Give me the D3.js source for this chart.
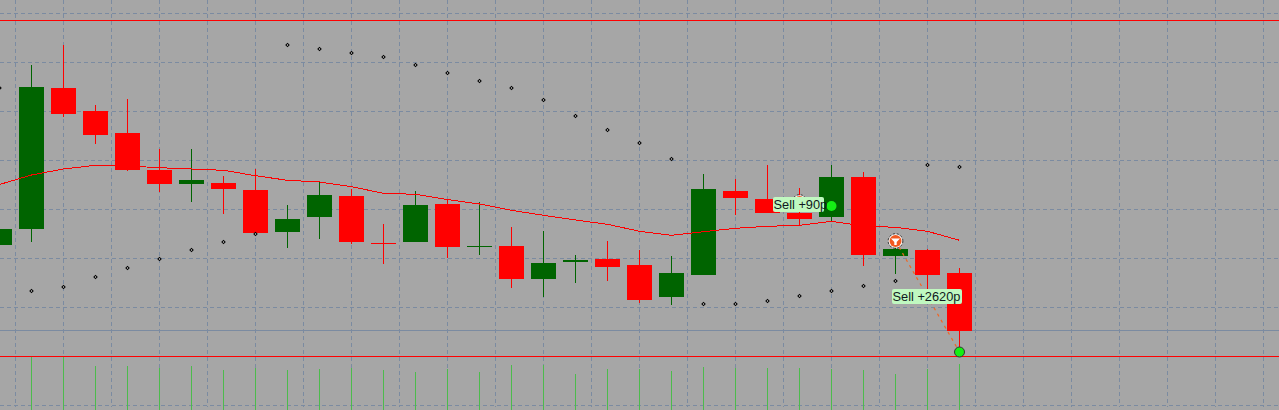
<!DOCTYPE html>
<html>
<head>
<meta charset="utf-8">
<script src="https://cdn.jsdelivr.net/npm/d3@7"></script>
<style>
  html, body { margin: 0; padding: 0; background: #a6a6a6; overflow: hidden; }
  svg { display: block; }
</style>
</head>
<body>
<div id="chart"></div>
<script>
// price data, one entry per bar
const open  = [255,271,412,389,367,330,316,317,310,268,283,304,257,258,296,253,254,221,238,241,235,203,225,309,301,287,283,323,244,250,227];
const close = [271,413,386,365,330,316,320,311,267,281,305,258,256,295,253,254,221,237,240,233,200,227,311,302,287,281,323,245,251,225,169];
const high  = [271,435,455,395,401,351,351,324,331,295,318,311,276,309,300,298,273,269,245,259,250,244,326,321,335,312,335,328,255,251,232];
const low   = [255,258,383,356,329,308,298,286,267,252,261,256,236,258,242,245,212,203,217,219,197,195,225,285,287,275,279,234,226,203,148];
const sar   = [412,209,213,223,232,241,250,258,266,455,451,447,443,435,427,419,412,400,384,370,357,341,196,196,199,204,209,214,219,335,333];
const ma    = [315.5,325,331,334.7,334,332.3,331,329.7,324.3,319.7,318,313.3,306.7,305.7,300.5,296,289.7,284.7,280,275.7,268.7,264.7,268.3,271.7,273.7,274.7,278.7,274,272.7,268.7,259.7];
const volume = [53,53,44,44,42,44,40,42,40,41,42,40,38,41,38,45,45,36,41,41,39,43,42,42,42,41,40,36,41,46];
const volumeBars = [1,2,3,4,5,6,7,8,9,10,11,12,13,14,15,16,17,18,19,20,21,22,23,24,25,26,27,28,29,30];

const priceGrid = [486.5,438,389,340,290.5,242,193,95];
const timeGrid = d3.range(0, 27);
const levelsRed = [479.5,143.5];
const levelGrey = [169.5];

// closed trades: entry bar and price, exit bar and price, label
const tradeEntryBar = [25,28];
const tradeEntryPrice = [298,259];
const tradeExitBar = [26,30];
const tradeExitPrice = [294,148];
const tradeLabels = ["Sell +90p","Sell +2620p"];

const width = 1279, height = 410;
const x = d3.scaleLinear().domain([0, 40]).range([-0.5, 1279.5]);
const y = d3.scaleLinear().domain([90, 500]).range([410, 0]);
const yVol = d3.scaleLinear().domain([0, 60]).range([410, 350]);
const gridX = d3.scaleLinear().domain([0, 26]).range([15.5, 1263.5]);

const svg = d3.select("#chart").append("svg")
  .attr("width", width)
  .attr("height", height);

svg.append("rect")
  .attr("width", width)
  .attr("height", height)
  .attr("fill", "#a6a6a6");

// grid
const grid = svg.append("g")
  .attr("stroke", "#7b8ba1")
  .attr("stroke-dasharray", "4,3")
  .attr("shape-rendering", "crispEdges");
grid.selectAll(".h").data(priceGrid).join("line")
  .attr("class", "h")
  .attr("x1", 0).attr("x2", width)
  .attr("y1", d => y(d)).attr("y2", d => y(d));
grid.selectAll(".v").data(timeGrid).join("line")
  .attr("class", "v")
  .attr("y1", 0).attr("y2", 407)
  .attr("x1", d => gridX(d)).attr("x2", d => gridX(d));

svg.selectAll(".grey").data(levelGrey).join("line")
  .attr("class", "grey")
  .attr("x1", 0).attr("x2", width)
  .attr("y1", d => y(d)).attr("y2", d => y(d))
  .attr("stroke", "#7b8ba1")
  .attr("shape-rendering", "crispEdges");

// volume
svg.selectAll(".vol").data(volumeBars).join("line")
  .attr("class", "vol")
  .attr("x1", d => x(d)).attr("x2", d => x(d))
  .attr("y1", 410)
  .attr("y2", (d, i) => yVol(volume[i]))
  .attr("stroke", "#4cbb4c")
  .attr("shape-rendering", "crispEdges");

// candles
const colorOf = i => close[i] >= open[i] ? "#006400" : "#ff0000";
const candles = svg.append("g").attr("shape-rendering", "crispEdges");
candles.selectAll(".wick").data(open).join("line")
  .attr("class", "wick")
  .attr("x1", (d, i) => x(i)).attr("x2", (d, i) => x(i))
  .attr("y1", (d, i) => y(high[i])).attr("y2", (d, i) => y(low[i]))
  .attr("stroke", (d, i) => colorOf(i));
candles.selectAll(".body").data(open).join("rect")
  .attr("class", "body")
  .attr("x", (d, i) => x(i) - 12.5)
  .attr("width", 25)
  .attr("y", (d, i) => y(Math.max(open[i], close[i])))
  .attr("height", (d, i) => Math.max(1, Math.abs(y(open[i]) - y(close[i]))))
  .attr("fill", (d, i) => colorOf(i));

// moving average
const maLine = d3.line().x((d, i) => x(i)).y(d => y(d));
svg.append("path")
  .attr("d", maLine(ma))
  .attr("fill", "none")
  .attr("stroke", "#ff0000")
  .attr("stroke-width", 1)
  .attr("shape-rendering", "crispEdges");

// parabolic dots
const dots = svg.append("g").selectAll("g").data(sar).join("g")
  .attr("transform", (d, i) => "translate(" + x(i) + "," + y(d) + ")");
dots.append("path")
  .attr("d", d3.symbol().type(d3.symbolSquare).size(5))
  .attr("transform", "rotate(45)")
  .attr("fill", "#fff")
  .attr("stroke", "#000")
  .attr("stroke-width", 1);

// red levels
svg.selectAll(".red").data(levelsRed).join("line")
  .attr("class", "red")
  .attr("x1", 0).attr("x2", width)
  .attr("y1", d => y(d)).attr("y2", d => y(d))
  .attr("stroke", "#ff0000")
  .attr("shape-rendering", "crispEdges");

// trades
const trades = svg.append("g");
tradeLabels.forEach((label, t) => {
  const ex = x(tradeEntryBar[t]), ey = y(tradeEntryPrice[t]);
  const cx = x(tradeExitBar[t]), cy = y(tradeExitPrice[t]);

  trades.append("line")
    .attr("x1", ex).attr("y1", ey).attr("x2", cx).attr("y2", cy)
    .attr("stroke", "#f26522")
    .attr("stroke-width", 1.2)
    .attr("stroke-dasharray", "3,4");

  const mark = trades.append("g").attr("transform", "translate(" + ex + "," + ey + ")");
  mark.append("circle").attr("r", 6.8).attr("fill", "#fff");
  mark.append("circle").attr("r", 6).attr("fill", "#f15a22");
  mark.append("circle").attr("r", 7.4).attr("fill", "none").attr("stroke", "#333").attr("stroke-width", 0.9).attr("stroke-dasharray", "2,2");
  mark.append("path").attr("d", "M-4.5,-2.5H4.5L1.2,1V4H-1.2V1Z").attr("fill", "#fff");
});

// exit markers go on top of the lines, labels on top of the entries
tradeLabels.forEach((label, t) => {
  const cx = x(tradeExitBar[t]), cy = y(tradeExitPrice[t]);
  trades.append("circle")
    .attr("cx", cx).attr("cy", cy).attr("r", 5)
    .attr("fill", "#14f014")
    .attr("stroke", t == 0 ? "none" : "#333")
    .attr("stroke-width", 1);
});

tradeLabels.forEach((label, t) => {
  const w = t == 0 ? 51 : 70;
  const lx = t == 0 ? x(tradeExitBar[t]) - 58.5 : x(tradeExitBar[t]) - 67.5;
  const ly = t == 0 ? y(tradeExitPrice[t]) - 9 : y(tradeExitPrice[t]) - 63;
  trades.append("rect")
    .attr("x", lx).attr("y", ly)
    .attr("width", w).attr("height", 15)
    .attr("rx", 2)
    .attr("fill", "#c0f8c0");
  trades.append("text")
    .attr("x", lx + 0.5).attr("y", ly + 12)
    .attr("font-family", "Liberation Sans, Arial, sans-serif")
    .attr("font-size", 12.8)
    .attr("fill", "#101820")
    .text(label);
});
</script>
</body>
</html>
